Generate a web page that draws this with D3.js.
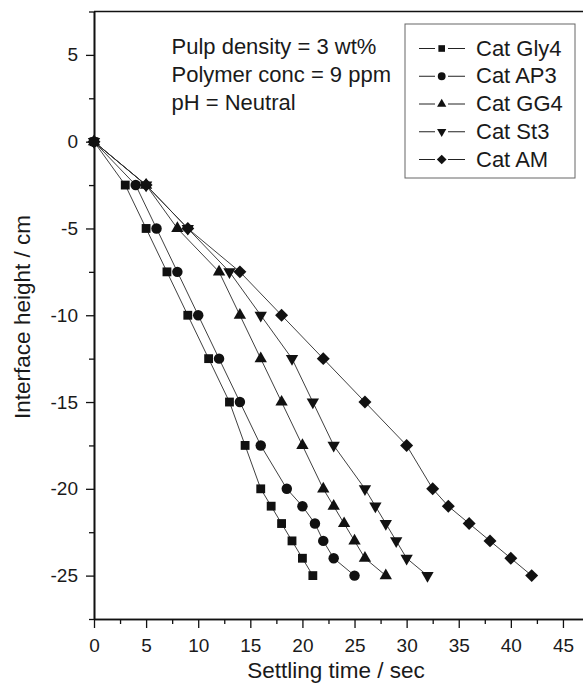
<!DOCTYPE html>
<html><head><meta charset="utf-8">
<script src="https://cdn.jsdelivr.net/npm/d3@7"></script>
<style>
body{margin:0;background:#fff}
svg{display:block}
text{font-family:"Liberation Sans",Arial,Helvetica,sans-serif;fill:#1a1a1a}
</style>
</head><body><svg id="c" width="583" height="697"></svg>
<script>
// ---- data ----
const seriesNames = ["Cat Gly4","Cat AP3","Cat GG4","Cat St3","Cat AM"];
const heights  = [0,-2.5,-5,-7.5,-10,-12.5,-15,-17.5,-20,-21,-22,-23,-24,-25];
const timeGly4 = [0,3,5,7,9,11,13,14.5,16,17,18,19,20,21];
const timeAP3  = [0,4,6,8,10,12,14,16,18.5,20,21.2,22,23,25];
const timeGG4  = [0,5,8,12,14,16,18,20,22,23,24,25,26,28];
const timeSt3  = [0,5,9,13,16,19,21,23,26,27,28,29,30,32];
const timeAM   = [0,5,9,14,18,22,26,30,32.5,34,36,38,40,42];
const xTicks = [0,5,10,15,20,25,30,35,40,45];
const xMinor = [2.5,7.5,12.5,17.5,22.5,27.5,32.5,37.5,42.5,47.5];
const yTicks = [5,0,-5,-10,-15,-20,-25];
const yMinor = [7.5,2.5,-2.5,-7.5,-12.5,-17.5,-22.5,-27.5];
const annotation = ["Pulp density = 3 wt%","Polymer conc = 9 ppm","pH = Neutral"];
const xTitle = "Settling time / sec";
const yTitle = "Interface height / cm";

const seriesTimes = [timeGly4,timeAP3,timeGG4,timeSt3,timeAM];
const shapes = ["square","circle","triangle","down","diamond"];

// ---- layout ----
const L = 94, R = 589, T = 11.5, B = 619;
const x = d3.scaleLinear().domain([0,47.5]).range([L,R]);
const y = d3.scaleLinear().domain([-27.5,7.5]).range([B,T]);
const svg = d3.select("#c");

function symPath(shape, scale){
  const s = scale||1;
  switch(shape){
    case "square": return d3.symbol(d3.symbolSquare, 78*s*s)();
    case "circle": return d3.symbol(d3.symbolCircle, 86*s*s)();
    case "triangle": return d3.symbol(d3.symbolTriangle, 66*s*s)();
    case "down": return d3.symbol(d3.symbolTriangle, 66*s*s)();
    case "diamond": return d3.symbol(d3.symbolSquare, 84*s*s)();
  }
}
function symRot(shape){ return shape==="down"?180:(shape==="diamond"?45:0); }

// lines
const line = d3.line().x(d=>x(d[0])).y(d=>y(d[1]));
seriesTimes.forEach((ts,i)=>{
  const pts = ts.map((t,j)=>[t,heights[j]]);
  svg.append("path").attr("d",line(pts)).attr("fill","none")
    .attr("stroke","#2a2a2a").attr("stroke-width",0.9);
});
// markers
seriesTimes.forEach((ts,i)=>{
  const pts = ts.map((t,j)=>[t,heights[j]]);
  svg.append("g").selectAll("path").data(pts).join("path")
    .attr("d",symPath(shapes[i]))
    .attr("transform",d=>`translate(${x(d[0])},${y(d[1])}) rotate(${symRot(shapes[i])})`)
    .attr("fill","#111");
});

// axes
const gx = svg.append("g").attr("transform",`translate(0,${B})`)
  .call(d3.axisBottom(x).tickValues(xTicks).tickSize(9).tickSizeOuter(0).tickPadding(11).tickFormat(d3.format("d")));
const gxm = svg.append("g").attr("transform",`translate(0,${B})`)
  .call(d3.axisBottom(x).tickValues(xMinor).tickSize(5).tickSizeOuter(0).tickFormat(""));
const gy = svg.append("g").attr("transform",`translate(${L},0)`)
  .call(d3.axisLeft(y).tickValues(yTicks).tickSize(8).tickSizeOuter(0).tickPadding(8).tickFormat(d=>d<0?"-"+Math.abs(d):String(d)));
const gym = svg.append("g").attr("transform",`translate(${L},0)`)
  .call(d3.axisLeft(y).tickValues(yMinor).tickSize(5).tickSizeOuter(0).tickFormat(""));
[gx,gxm,gy,gym].forEach(g=>{
  g.selectAll(".domain").attr("stroke","#111").attr("stroke-width",1.6);
  g.selectAll(".tick line").attr("stroke","#111").attr("stroke-width",1.3);
  g.selectAll(".tick text").attr("font-size",19).attr("fill","#1a1a1a")
    .attr("font-family",'"Liberation Sans",Arial,sans-serif');
});
// top and right frame
svg.append("line").attr("x1",L).attr("x2",R).attr("y1",T).attr("y2",T)
  .attr("stroke","#111").attr("stroke-width",1.6);
svg.append("line").attr("x1",R).attr("x2",R).attr("y1",T).attr("y2",B)
  .attr("stroke","#111").attr("stroke-width",1.6);

// axis titles
svg.append("text").attr("x",336).attr("y",678).attr("text-anchor","middle")
  .attr("font-size",22.5).text(xTitle);
svg.append("text").attr("transform",`translate(30,317) rotate(-90)`)
  .attr("text-anchor","middle").attr("font-size",22.5).text(yTitle);

// annotation
annotation.forEach((s,i)=>{
  svg.append("text").attr("x",171.5).attr("y",53.5+i*28).attr("font-size",22).text(s);
});

// legend
const lg = svg.append("g");
lg.append("rect").attr("x",405).attr("y",24).attr("width",170).attr("height",154)
  .attr("fill","#fff").attr("stroke","#666").attr("stroke-width",1);
seriesNames.forEach((n,i)=>{
  const cy = 48.5 + i*27.75;
  lg.append("line").attr("x1",419).attr("x2",435).attr("y1",cy).attr("y2",cy).attr("stroke","#222").attr("stroke-width",1);
  lg.append("line").attr("x1",448).attr("x2",465).attr("y1",cy).attr("y2",cy).attr("stroke","#222").attr("stroke-width",1);
  lg.append("path").attr("d",symPath(shapes[i],0.75))
    .attr("transform",`translate(441.7,${cy}) rotate(${symRot(shapes[i])})`).attr("fill","#111");
  lg.append("text").attr("x",476).attr("y",cy+7).attr("font-size",22).text(n);
});
</script>
</body></html>
